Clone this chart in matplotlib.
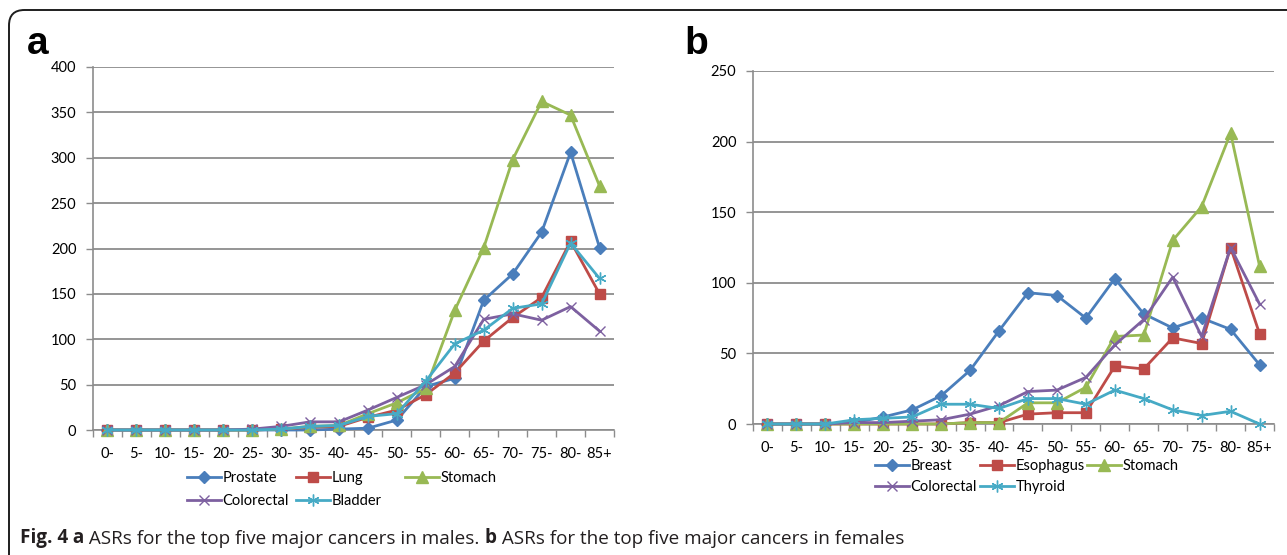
import matplotlib
matplotlib.use("Agg")
import matplotlib.pyplot as plt
from matplotlib.patches import FancyBboxPatch
import numpy as np

# ---------------- data ----------------
age_groups = ["0-", "5-", "10-", "15-", "20-", "25-", "30-", "35-", "40-",
              "45-", "50-", "55-", "60-", "65-", "70-", "75-", "80-", "85+"]

male_prostate   = [0, 0, 0, 0, 0, 0, 0, 0, 1, 2, 11, 48, 57, 143, 172, 218, 306, 201]
male_lung       = [0, 0, 0, 0, 0, 0, 1, 3, 4, 14, 22, 39, 63, 98, 124, 146, 208, 150]
male_stomach    = [0, 0, 0, 0, 0, 0, 1, 4, 5, 18, 30, 46, 132, 201, 298, 362, 347, 269]
male_colorectal = [0, 0, 0, 0, 0, 1, 4, 9, 9, 22, 36, 50, 70, 122, 128, 121, 136, 109]
male_bladder    = [0, 0, 0, 0, 0, 0, 1, 4, 5, 15, 18, 54, 95, 110, 134, 139, 206, 167]

female_breast     = [0, 0, 0, 1, 5, 10, 20, 38, 66, 93, 91, 75, 103, 78, 68, 75, 67, 42]
female_esophagus  = [0, 0, 0, 0, 0, 0, 0, 1, 1, 7, 8, 8, 41, 39, 61, 57, 125, 64]
female_stomach    = [0, 0, 0, 0, 0, 0, 0, 1, 1, 15, 15, 26, 62, 63, 130, 154, 206, 112]
female_colorectal = [0, 0, 0, 1, 1, 2, 3, 7, 13, 23, 24, 33, 56, 74, 104, 62, 125, 85]
female_thyroid    = [0, 0, 0, 3, 4, 5, 14, 14, 11, 18, 18, 14, 24, 18, 10, 6, 9, 0]

male_labels = ["Prostate", "Lung", "Stomach", "Colorectal", "Bladder"]
female_labels = ["Breast", "Esophagus", "Stomach", "Colorectal", "Thyroid"]

male_yticks = [0, 50, 100, 150, 200, 250, 300, 350, 400]
female_yticks = [0, 50, 100, 150, 200, 250]

caption_pieces = [("Fig. 4", "bold"), (" a", "bold"),
                  (" ASRs for the top five major cancers in males. ", "normal"),
                  ("b", "bold"),
                  (" ASRs for the top five major cancers in females", "normal")]

# ---------------- styles ----------------
colors = ["#4A7EBB", "#BE4B48", "#98B954", "#7D60A0", "#46AAC5"]
styles = [
    dict(marker="D", markersize=6.5),
    dict(marker="s", markersize=7.5),
    dict(marker="^", markersize=8),
    dict(marker="x", markersize=7.5, markeredgewidth=1.0),
    dict(marker=(6, 2, 0), markersize=8.5, markeredgewidth=1.0),
]

W, H = 1287, 555
fig = plt.figure(figsize=(W / 100, H / 100), dpi=100)
fig.patch.set_facecolor("white")

TICK_FONT = ["Lato", "DejaVu Sans"]
TICK_SIZE = 10.5
GRID = "#8C8C8C"


def px_axes(l, t, r, b):
    return fig.add_axes([l / W, 1 - b / H, (r - l) / W, (b - t) / H])


def draw_panel(ax, series, labels, yticks, ymax):
    x = np.arange(len(age_groups))
    handles = []
    for vals, lab, col, st in zip(series, labels, colors, styles):
        h, = ax.plot(x, vals, color=col, linewidth=2.0, label=lab,
                     markerfacecolor=col, markeredgecolor=col,
                     clip_on=False, zorder=3, **st)
        handles.append(h)
    ax.set_xlim(-0.5, len(age_groups) - 0.5)
    ax.set_ylim(0, ymax)
    ax.set_yticks(yticks)
    ax.set_yticklabels([str(v) for v in yticks], family=TICK_FONT,
                       fontsize=TICK_SIZE)
    ax.set_xticks(x)
    ax.set_xticklabels(age_groups, family=TICK_FONT, fontsize=TICK_SIZE)
    ax.set_xticks(np.arange(-0.5, len(age_groups)), minor=True)
    ax.tick_params(axis="x", which="major", length=0, pad=12)
    ax.tick_params(axis="x", which="minor", length=5, color=GRID, width=1.0,
                   direction="out")
    ax.tick_params(axis="y", length=5, color=GRID, width=1.0, pad=7)
    for side in ["top", "right"]:
        ax.spines[side].set_visible(False)
    for side in ["left", "bottom"]:
        ax.spines[side].set_color(GRID)
        ax.spines[side].set_linewidth(1.2)
    ax.yaxis.grid(True, color=GRID, linewidth=1.3)
    ax.set_axisbelow(True)
    ax.set_facecolor("none")
    return handles


def place_legend(handles, labels, x_px, y_px, spacing):
    fig.legend(handles, labels, loc="upper left",
               bbox_to_anchor=(x_px / W, 1 - y_px / H),
               bbox_transform=fig.transFigure,
               frameon=False, borderpad=0, borderaxespad=0,
               handlelength=2.3, handletextpad=0.15,
               labelspacing=spacing, numpoints=1,
               prop=dict(family=TICK_FONT, size=TICK_SIZE))


# ---------------- panel a ----------------
ax_a = px_axes(93, 67, 614, 430)
ha = draw_panel(ax_a, [male_prostate, male_lung, male_stomach,
                       male_colorectal, male_bladder],
                male_labels, male_yticks, 400)
place_legend([ha[0], ha[3]], [male_labels[0], male_labels[3]], 187, 471, 0.62)
place_legend([ha[1], ha[4]], [male_labels[1], male_labels[4]], 296, 471, 0.62)
place_legend([ha[2]], [male_labels[2]], 405, 471, 0.62)

# ---------------- panel b ----------------
ax_b = px_axes(753, 71, 1274, 424)
hb = draw_panel(ax_b, [female_breast, female_esophagus, female_stomach,
                       female_colorectal, female_thyroid],
                female_labels, female_yticks, 250)
place_legend([hb[0], hb[3]], [female_labels[0], female_labels[3]], 875, 459, 0.5)
place_legend([hb[1], hb[4]], [female_labels[1], female_labels[4]], 980, 459, 0.5)
place_legend([hb[2]], [female_labels[2]], 1087, 459, 0.5)

# ---------------- panel letters ----------------
fig.text(27 / W, 1 - 54 / H, "a", family=["Liberation Sans", "DejaVu Sans"],
         fontweight="bold", fontsize=28, va="baseline", ha="left")
fig.text(684 / W, 1 - 54 / H, "b", family=["Liberation Sans", "DejaVu Sans"],
         fontweight="bold", fontsize=28, va="baseline", ha="left")

# ---------------- border ----------------
box = FancyBboxPatch((9 / W, -0.2), 1.2, (1 - 10 / H) + 0.2,
                     boxstyle="round,pad=0,rounding_size=0.012",
                     transform=fig.transFigure, facecolor="none",
                     edgecolor="#1E1E1E", linewidth=1.4, mutation_aspect=W / H,
                     clip_on=False)
fig.patches.append(box)

# ---------------- caption ----------------
CAP_FONT = ["Open Sans", "DejaVu Sans"]
cap_size = 13.6
prev = fig.text(20 / W, 1 - 543 / H, caption_pieces[0][0], family=CAP_FONT,
                fontweight=caption_pieces[0][1], fontsize=cap_size,
                color="#231F20", va="baseline", ha="left")
for txt, wt in caption_pieces[1:]:
    prev = fig.add_artist(matplotlib.text.Annotation(
        txt, xy=(1, 0), xycoords=prev, va="bottom", ha="left",
        family=CAP_FONT, fontweight=wt, fontsize=cap_size, color="#231F20",
        annotation_clip=False))

fig.savefig("out.png", dpi=100, facecolor="white")
